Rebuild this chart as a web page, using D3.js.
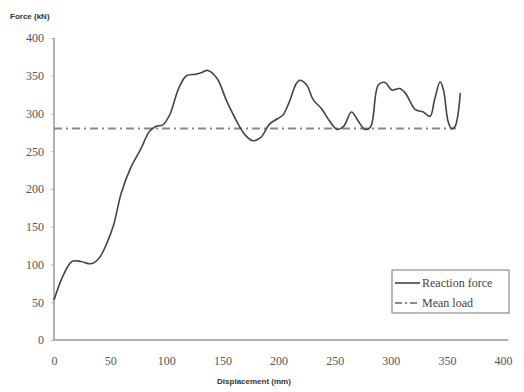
<!DOCTYPE html>
<html>
<head>
<meta charset="utf-8">
<script src="https://cdn.jsdelivr.net/npm/d3@7"></script>
<style>
  body { margin: 0; background: #fff; }
</style>
</head>
<body>
<svg id="chart" width="524" height="392"></svg>
<script>
// displacement (mm) and reaction force (kN)
let displacement = [0, 8, 16, 24, 33, 40, 47, 53, 60, 68, 77, 85, 91, 97, 103, 111, 118, 126, 131, 137,
  145, 154, 163, 170, 177, 184, 192, 199, 204, 209, 216, 219, 225, 231, 238, 246, 252, 258, 265, 271,
  277, 282, 289, 295, 301, 308, 313, 322, 329, 335, 339, 344, 347, 351, 354, 357, 362]
let force = [53, 85, 104, 104, 101, 108, 128, 152, 195, 227, 252, 276, 283, 285, 298, 333, 350, 352, 354, 357,
  347, 316, 289, 272, 264, 268, 286, 293, 298, 313, 340, 344, 338, 318, 307, 289, 279, 283, 302, 290,
  279, 282, 338, 341, 331, 333, 327, 305, 302, 296, 318, 342, 331, 290, 280, 282, 327]
let meanLoad = 280
let meanRange = [0, 358]
let xTicks = [0, 50, 100, 150, 200, 250, 300, 350, 400]
let yTicks = [0, 50, 100, 150, 200, 250, 300, 350, 400]
let seriesNames = ["Reaction force", "Mean load"]

let svg = d3.select("#chart"),
    margin = {top: 38, right: 21, bottom: 52, left: 54},
    width = 524 - margin.left - margin.right,
    height = 392 - margin.top - margin.bottom,
    g = svg.append("g").attr("transform", "translate(" + margin.left + "," + margin.top + ")")

let x = d3.scaleLinear().domain([0, 400]).range([0, 449]),
    y = d3.scaleLinear().domain([0, 400]).range([height, 0])

let data = displacement.map(function(d, i) { return {x: d, y: force[i]} })

// axes
let xAxis = g.append("g")
  .attr("transform", "translate(0," + height + ")")
  .call(d3.axisBottom(x).tickValues(xTicks).tickSize(0).tickPadding(16))
xAxis.select(".domain").remove()
g.append("line")
  .attr("x1", 0).attr("x2", 454)
  .attr("y1", height).attr("y2", height)
  .attr("stroke", "#999").attr("stroke-width", 1.5)

let yAxis = g.append("g")
  .call(d3.axisLeft(y).tickValues(yTicks).tickSize(3).tickPadding(7))
yAxis.select(".domain").remove()
yAxis.selectAll(".tick line").attr("stroke", "#bbb")
g.append("line")
  .attr("x1", 0).attr("x2", 0)
  .attr("y1", 0).attr("y2", height)
  .attr("stroke", "#999").attr("stroke-width", 1.5)

g.selectAll(".tick text")
  .attr("font-family", null)
  .style("font-family", "'Liberation Serif', 'Times New Roman', serif")
  .style("font-size", "12px")
  .style("fill", "#555")

// mean load
g.append("line")
  .attr("x1", x(meanRange[0])).attr("x2", x(meanRange[1]))
  .attr("y1", y(meanLoad)).attr("y2", y(meanLoad))
  .attr("stroke", "#888").attr("stroke-width", 2)
  .attr("stroke-dasharray", "8,4,2,4")

// reaction force
let line = d3.line()
  .curve(d3.curveCatmullRom.alpha(0.5))
  .x(function(d) { return x(d.x) })
  .y(function(d) { return y(d.y) })

g.append("path")
  .datum(data)
  .attr("fill", "none")
  .attr("stroke", "#444")
  .attr("stroke-width", 1.6)
  .attr("d", line)

// titles
svg.append("text")
  .attr("x", 10).attr("y", 19)
  .style("font-family", "'Liberation Sans', Arial, sans-serif")
  .style("font-size", "8px").style("font-weight", "bold").style("fill", "#333")
  .text("Force (kN)")
svg.append("text")
  .attr("x", 254).attr("y", 384)
  .attr("text-anchor", "middle")
  .style("font-family", "'Liberation Sans', Arial, sans-serif")
  .style("font-size", "8px").style("font-weight", "bold").style("fill", "#333")
  .text("Displacement (mm)")

// legend
let legend = svg.append("g").attr("transform", "translate(392,270)")
legend.append("rect")
  .attr("width", 117).attr("height", 43)
  .attr("fill", "#fff").attr("stroke", "#777").attr("stroke-width", 1)
let styles = [{dash: null, color: "#444"}, {dash: "7,3,2,3", color: "#666"}]
seriesNames.forEach(function(name, i) {
  let yy = 13 + i * 20
  legend.append("line")
    .attr("x1", 3).attr("x2", 28).attr("y1", yy).attr("y2", yy)
    .attr("stroke", styles[i].color).attr("stroke-width", 1.6)
    .attr("stroke-dasharray", styles[i].dash)
  legend.append("text")
    .attr("x", 30).attr("y", yy + 4)
    .style("font-family", "'Liberation Serif', serif")
    .style("font-size", "12px").style("fill", "#444")
    .text(name)
})
</script>
</body>
</html>
